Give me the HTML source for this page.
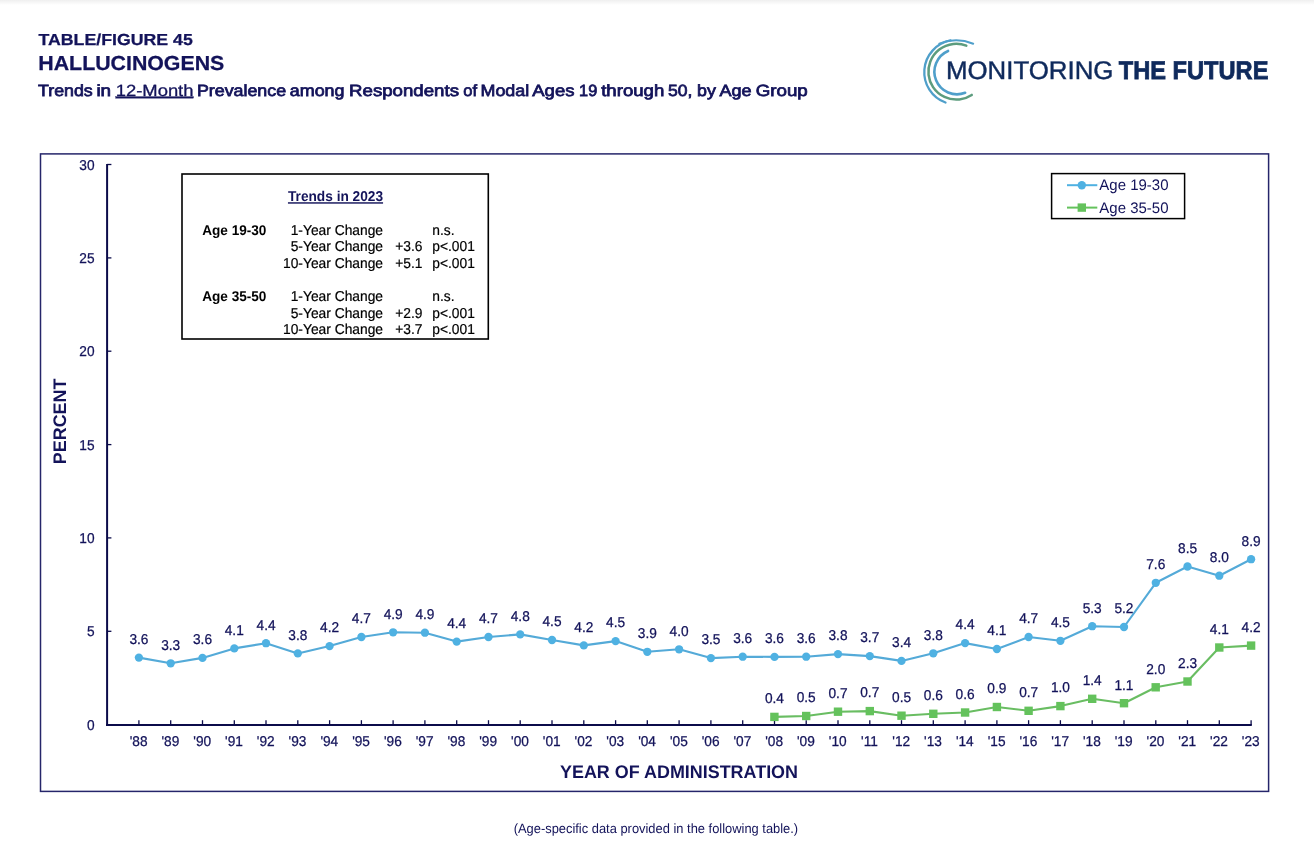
<!DOCTYPE html>
<html lang="en">
<head>
<meta charset="utf-8">
<title>Table/Figure 45 - Hallucinogens</title>
<style>
html,body{margin:0;padding:0;background:#fff;}
body{width:1314px;height:860px;overflow:hidden;position:relative;font-family:"Liberation Sans",Arial,Helvetica,sans-serif;}
svg{position:absolute;left:0;top:0;display:block;will-change:transform;}
text{font-family:"Liberation Sans",Arial,Helvetica,sans-serif;text-rendering:geometricPrecision;}
</style>
</head>
<body>
<svg width="1314" height="860" viewBox="0 0 1314 860">
<defs>
<linearGradient id="topsh" x1="0" y1="0" x2="0" y2="1"><stop offset="0" stop-color="#efefef"/><stop offset="1" stop-color="#ffffff"/></linearGradient>
</defs>
<rect x="0" y="0" width="1314" height="860" fill="#ffffff"/>
<rect x="0" y="0" width="1314" height="5" fill="url(#topsh)"/>

<!-- header -->
<text transform="translate(38.50 44.50) scale(1.000 1.030)" font-size="15.5" fill="#13135a" font-weight="bold" stroke="#13135a" stroke-width="0.25" textLength="154.3" lengthAdjust="spacingAndGlyphs">TABLE/FIGURE 45</text>
<text transform="translate(38.30 70.25) scale(1.000 1.055)" font-size="19.2" fill="#13135a" font-weight="bold" stroke="#13135a" stroke-width="0.25" textLength="186" lengthAdjust="spacingAndGlyphs">HALLUCINOGENS</text>
<text y="95.6" font-size="16.2" fill="#13135a" stroke="#13135a"><tspan x="38.0" stroke-width="0.75" textLength="54.7" lengthAdjust="spacingAndGlyphs">Trends</tspan> <tspan x="96.4" stroke-width="0.75" textLength="14.7" lengthAdjust="spacingAndGlyphs">in</tspan> <tspan x="115.7" stroke-width="0.3" text-decoration="underline" textLength="77.8" lengthAdjust="spacingAndGlyphs">12-Month</tspan> <tspan x="196.9" stroke-width="0.75" textLength="89.2" lengthAdjust="spacingAndGlyphs">Prevalence</tspan> <tspan x="289.8" stroke-width="0.75" textLength="54.7" lengthAdjust="spacingAndGlyphs">among</tspan> <tspan x="349.1" stroke-width="0.75" textLength="109.9" lengthAdjust="spacingAndGlyphs">Respondents</tspan> <tspan x="463.3" stroke-width="0.75" textLength="13.8" lengthAdjust="spacingAndGlyphs">of</tspan> <tspan x="480.5" stroke-width="0.75" textLength="48.7" lengthAdjust="spacingAndGlyphs">Modal</tspan> <tspan x="532.3" stroke-width="0.75" textLength="42.1" lengthAdjust="spacingAndGlyphs">Ages</tspan> <tspan x="579.1" stroke-width="0.75" textLength="18.1" lengthAdjust="spacingAndGlyphs">19</tspan> <tspan x="601.2" stroke-width="0.75" textLength="63.1" lengthAdjust="spacingAndGlyphs">through</tspan> <tspan x="668.0" stroke-width="0.75" textLength="24.4" lengthAdjust="spacingAndGlyphs">50,</tspan> <tspan x="697.0" stroke-width="0.75" textLength="18.8" lengthAdjust="spacingAndGlyphs">by</tspan> <tspan x="719.5" stroke-width="0.75" textLength="32.1" lengthAdjust="spacingAndGlyphs">Age</tspan> <tspan x="755.7" stroke-width="0.75" textLength="52.1" lengthAdjust="spacingAndGlyphs">Group</tspan></text>
<!-- logo -->
<g fill="none" stroke-linecap="round">
<path d="M950.53 40.47 A32.30 32.30 0 0 0 945.48 102.53" stroke="#4f9fca" stroke-width="2.3"/>
<path d="M939.3 43.6 A46 46 0 0 1 973.2 43.7" stroke="#4f9fca" stroke-width="2.0"/>
<path d="M966.32 45.66 A27.90 27.90 0 1 0 971.75 94.93" stroke="#5c9c7e" stroke-width="2.5"/>
<path d="M948.07 50.94 A22.60 22.60 0 0 0 965.15 92.78" stroke="#4f9fca" stroke-width="2.6"/>
</g>
<text transform="translate(946.00 78.60)" font-size="25.6" fill="#0f2a5c" stroke="#0f2a5c" stroke-width="0.45" textLength="167.4" lengthAdjust="spacingAndGlyphs">MONITORING</text>
<text transform="translate(1118.80 78.60)" font-size="25.6" fill="#0f2a5c" font-weight="bold" stroke="#0f2a5c" stroke-width="0.8" textLength="149.6" lengthAdjust="spacingAndGlyphs">THE FUTURE</text>
<!-- chart frame and axes -->
<rect x="40.5" y="153.9" width="1228.1" height="637.5" fill="none" stroke="#25256a" stroke-width="1.5"/>
<g stroke="#0b0b4a" fill="none">
<line x1="107.1" y1="164.1" x2="107.1" y2="726.0" stroke-width="2"/>
<line x1="106.1" y1="725.0" x2="1251.8" y2="725.0" stroke-width="2"/>
<line x1="107.1" y1="631.3" x2="111.4" y2="631.3" stroke-width="1.3"/>
<line x1="107.1" y1="537.9" x2="111.4" y2="537.9" stroke-width="1.3"/>
<line x1="107.1" y1="444.6" x2="111.4" y2="444.6" stroke-width="1.3"/>
<line x1="107.1" y1="351.2" x2="111.4" y2="351.2" stroke-width="1.3"/>
<line x1="107.1" y1="257.9" x2="111.4" y2="257.9" stroke-width="1.3"/>
<line x1="107.1" y1="164.5" x2="111.4" y2="164.5" stroke-width="1.3"/>
<line x1="138.9" y1="725.0" x2="138.9" y2="720.2" stroke-width="1.3"/>
<line x1="170.7" y1="725.0" x2="170.7" y2="720.2" stroke-width="1.3"/>
<line x1="202.5" y1="725.0" x2="202.5" y2="720.2" stroke-width="1.3"/>
<line x1="234.3" y1="725.0" x2="234.3" y2="720.2" stroke-width="1.3"/>
<line x1="266.0" y1="725.0" x2="266.0" y2="720.2" stroke-width="1.3"/>
<line x1="297.8" y1="725.0" x2="297.8" y2="720.2" stroke-width="1.3"/>
<line x1="329.6" y1="725.0" x2="329.6" y2="720.2" stroke-width="1.3"/>
<line x1="361.4" y1="725.0" x2="361.4" y2="720.2" stroke-width="1.3"/>
<line x1="393.1" y1="725.0" x2="393.1" y2="720.2" stroke-width="1.3"/>
<line x1="424.9" y1="725.0" x2="424.9" y2="720.2" stroke-width="1.3"/>
<line x1="456.7" y1="725.0" x2="456.7" y2="720.2" stroke-width="1.3"/>
<line x1="488.5" y1="725.0" x2="488.5" y2="720.2" stroke-width="1.3"/>
<line x1="520.2" y1="725.0" x2="520.2" y2="720.2" stroke-width="1.3"/>
<line x1="552.0" y1="725.0" x2="552.0" y2="720.2" stroke-width="1.3"/>
<line x1="583.8" y1="725.0" x2="583.8" y2="720.2" stroke-width="1.3"/>
<line x1="615.6" y1="725.0" x2="615.6" y2="720.2" stroke-width="1.3"/>
<line x1="647.3" y1="725.0" x2="647.3" y2="720.2" stroke-width="1.3"/>
<line x1="679.1" y1="725.0" x2="679.1" y2="720.2" stroke-width="1.3"/>
<line x1="710.9" y1="725.0" x2="710.9" y2="720.2" stroke-width="1.3"/>
<line x1="742.7" y1="725.0" x2="742.7" y2="720.2" stroke-width="1.3"/>
<line x1="774.5" y1="725.0" x2="774.5" y2="720.2" stroke-width="1.3"/>
<line x1="806.2" y1="725.0" x2="806.2" y2="720.2" stroke-width="1.3"/>
<line x1="838.0" y1="725.0" x2="838.0" y2="720.2" stroke-width="1.3"/>
<line x1="869.8" y1="725.0" x2="869.8" y2="720.2" stroke-width="1.3"/>
<line x1="901.5" y1="725.0" x2="901.5" y2="720.2" stroke-width="1.3"/>
<line x1="933.3" y1="725.0" x2="933.3" y2="720.2" stroke-width="1.3"/>
<line x1="965.1" y1="725.0" x2="965.1" y2="720.2" stroke-width="1.3"/>
<line x1="996.9" y1="725.0" x2="996.9" y2="720.2" stroke-width="1.3"/>
<line x1="1028.6" y1="725.0" x2="1028.6" y2="720.2" stroke-width="1.3"/>
<line x1="1060.4" y1="725.0" x2="1060.4" y2="720.2" stroke-width="1.3"/>
<line x1="1092.2" y1="725.0" x2="1092.2" y2="720.2" stroke-width="1.3"/>
<line x1="1124.0" y1="725.0" x2="1124.0" y2="720.2" stroke-width="1.3"/>
<line x1="1155.8" y1="725.0" x2="1155.8" y2="720.2" stroke-width="1.3"/>
<line x1="1187.5" y1="725.0" x2="1187.5" y2="720.2" stroke-width="1.3"/>
<line x1="1219.3" y1="725.0" x2="1219.3" y2="720.2" stroke-width="1.3"/>
<line x1="1251.1" y1="725.0" x2="1251.1" y2="720.2" stroke-width="1.3"/>
</g>
<!-- axis labels -->
<text transform="translate(94.60 729.75) scale(1.000 1.040)" font-size="13.7" fill="#13135a" text-anchor="end" stroke="#13135a" stroke-width="0.25">0</text>
<text transform="translate(94.60 636.40) scale(1.000 1.040)" font-size="13.7" fill="#13135a" text-anchor="end" stroke="#13135a" stroke-width="0.25">5</text>
<text transform="translate(94.60 543.05) scale(1.000 1.040)" font-size="13.7" fill="#13135a" text-anchor="end" stroke="#13135a" stroke-width="0.25">10</text>
<text transform="translate(94.60 449.70) scale(1.000 1.040)" font-size="13.7" fill="#13135a" text-anchor="end" stroke="#13135a" stroke-width="0.25">15</text>
<text transform="translate(94.60 356.35) scale(1.000 1.040)" font-size="13.7" fill="#13135a" text-anchor="end" stroke="#13135a" stroke-width="0.25">20</text>
<text transform="translate(94.60 263.00) scale(1.000 1.040)" font-size="13.7" fill="#13135a" text-anchor="end" stroke="#13135a" stroke-width="0.25">25</text>
<text transform="translate(94.60 169.65) scale(1.000 1.040)" font-size="13.7" fill="#13135a" text-anchor="end" stroke="#13135a" stroke-width="0.25">30</text>
<text transform="translate(138.65 745.70) scale(1.000 1.040)" font-size="13.7" fill="#13135a" text-anchor="middle" stroke="#13135a" stroke-width="0.25">'88</text>
<text transform="translate(170.42 745.70) scale(1.000 1.040)" font-size="13.7" fill="#13135a" text-anchor="middle" stroke="#13135a" stroke-width="0.25">'89</text>
<text transform="translate(202.20 745.70) scale(1.000 1.040)" font-size="13.7" fill="#13135a" text-anchor="middle" stroke="#13135a" stroke-width="0.25">'90</text>
<text transform="translate(233.97 745.70) scale(1.000 1.040)" font-size="13.7" fill="#13135a" text-anchor="middle" stroke="#13135a" stroke-width="0.25">'91</text>
<text transform="translate(265.75 745.70) scale(1.000 1.040)" font-size="13.7" fill="#13135a" text-anchor="middle" stroke="#13135a" stroke-width="0.25">'92</text>
<text transform="translate(297.52 745.70) scale(1.000 1.040)" font-size="13.7" fill="#13135a" text-anchor="middle" stroke="#13135a" stroke-width="0.25">'93</text>
<text transform="translate(329.30 745.70) scale(1.000 1.040)" font-size="13.7" fill="#13135a" text-anchor="middle" stroke="#13135a" stroke-width="0.25">'94</text>
<text transform="translate(361.07 745.70) scale(1.000 1.040)" font-size="13.7" fill="#13135a" text-anchor="middle" stroke="#13135a" stroke-width="0.25">'95</text>
<text transform="translate(392.85 745.70) scale(1.000 1.040)" font-size="13.7" fill="#13135a" text-anchor="middle" stroke="#13135a" stroke-width="0.25">'96</text>
<text transform="translate(424.62 745.70) scale(1.000 1.040)" font-size="13.7" fill="#13135a" text-anchor="middle" stroke="#13135a" stroke-width="0.25">'97</text>
<text transform="translate(456.40 745.70) scale(1.000 1.040)" font-size="13.7" fill="#13135a" text-anchor="middle" stroke="#13135a" stroke-width="0.25">'98</text>
<text transform="translate(488.17 745.70) scale(1.000 1.040)" font-size="13.7" fill="#13135a" text-anchor="middle" stroke="#13135a" stroke-width="0.25">'99</text>
<text transform="translate(519.95 745.70) scale(1.000 1.040)" font-size="13.7" fill="#13135a" text-anchor="middle" stroke="#13135a" stroke-width="0.25">'00</text>
<text transform="translate(551.73 745.70) scale(1.000 1.040)" font-size="13.7" fill="#13135a" text-anchor="middle" stroke="#13135a" stroke-width="0.25">'01</text>
<text transform="translate(583.50 745.70) scale(1.000 1.040)" font-size="13.7" fill="#13135a" text-anchor="middle" stroke="#13135a" stroke-width="0.25">'02</text>
<text transform="translate(615.28 745.70) scale(1.000 1.040)" font-size="13.7" fill="#13135a" text-anchor="middle" stroke="#13135a" stroke-width="0.25">'03</text>
<text transform="translate(647.05 745.70) scale(1.000 1.040)" font-size="13.7" fill="#13135a" text-anchor="middle" stroke="#13135a" stroke-width="0.25">'04</text>
<text transform="translate(678.83 745.70) scale(1.000 1.040)" font-size="13.7" fill="#13135a" text-anchor="middle" stroke="#13135a" stroke-width="0.25">'05</text>
<text transform="translate(710.60 745.70) scale(1.000 1.040)" font-size="13.7" fill="#13135a" text-anchor="middle" stroke="#13135a" stroke-width="0.25">'06</text>
<text transform="translate(742.38 745.70) scale(1.000 1.040)" font-size="13.7" fill="#13135a" text-anchor="middle" stroke="#13135a" stroke-width="0.25">'07</text>
<text transform="translate(774.15 745.70) scale(1.000 1.040)" font-size="13.7" fill="#13135a" text-anchor="middle" stroke="#13135a" stroke-width="0.25">'08</text>
<text transform="translate(805.92 745.70) scale(1.000 1.040)" font-size="13.7" fill="#13135a" text-anchor="middle" stroke="#13135a" stroke-width="0.25">'09</text>
<text transform="translate(837.70 745.70) scale(1.000 1.040)" font-size="13.7" fill="#13135a" text-anchor="middle" stroke="#13135a" stroke-width="0.25">'10</text>
<text transform="translate(869.47 745.70) scale(1.000 1.040)" font-size="13.7" fill="#13135a" text-anchor="middle" stroke="#13135a" stroke-width="0.25">'11</text>
<text transform="translate(901.25 745.70) scale(1.000 1.040)" font-size="13.7" fill="#13135a" text-anchor="middle" stroke="#13135a" stroke-width="0.25">'12</text>
<text transform="translate(933.03 745.70) scale(1.000 1.040)" font-size="13.7" fill="#13135a" text-anchor="middle" stroke="#13135a" stroke-width="0.25">'13</text>
<text transform="translate(964.80 745.70) scale(1.000 1.040)" font-size="13.7" fill="#13135a" text-anchor="middle" stroke="#13135a" stroke-width="0.25">'14</text>
<text transform="translate(996.58 745.70) scale(1.000 1.040)" font-size="13.7" fill="#13135a" text-anchor="middle" stroke="#13135a" stroke-width="0.25">'15</text>
<text transform="translate(1028.35 745.70) scale(1.000 1.040)" font-size="13.7" fill="#13135a" text-anchor="middle" stroke="#13135a" stroke-width="0.25">'16</text>
<text transform="translate(1060.12 745.70) scale(1.000 1.040)" font-size="13.7" fill="#13135a" text-anchor="middle" stroke="#13135a" stroke-width="0.25">'17</text>
<text transform="translate(1091.90 745.70) scale(1.000 1.040)" font-size="13.7" fill="#13135a" text-anchor="middle" stroke="#13135a" stroke-width="0.25">'18</text>
<text transform="translate(1123.67 745.70) scale(1.000 1.040)" font-size="13.7" fill="#13135a" text-anchor="middle" stroke="#13135a" stroke-width="0.25">'19</text>
<text transform="translate(1155.45 745.70) scale(1.000 1.040)" font-size="13.7" fill="#13135a" text-anchor="middle" stroke="#13135a" stroke-width="0.25">'20</text>
<text transform="translate(1187.23 745.70) scale(1.000 1.040)" font-size="13.7" fill="#13135a" text-anchor="middle" stroke="#13135a" stroke-width="0.25">'21</text>
<text transform="translate(1219.00 745.70) scale(1.000 1.040)" font-size="13.7" fill="#13135a" text-anchor="middle" stroke="#13135a" stroke-width="0.25">'22</text>
<text transform="translate(1250.78 745.70) scale(1.000 1.040)" font-size="13.7" fill="#13135a" text-anchor="middle" stroke="#13135a" stroke-width="0.25">'23</text>
<text transform="translate(679.00 777.90) scale(1.000 1.080)" font-size="17" fill="#13135a" text-anchor="middle" font-weight="bold" textLength="238" lengthAdjust="spacingAndGlyphs">YEAR OF ADMINISTRATION</text>
<text transform="translate(66.40 421.40) rotate(-90) scale(1.000 1.070)" font-size="17" fill="#13135a" text-anchor="middle" font-weight="bold" textLength="85.5" lengthAdjust="spacingAndGlyphs">PERCENT</text>
<!-- series -->
<polyline points="138.9,657.6 170.7,663.3 202.5,657.9 234.3,648.4 266.0,643.2 297.8,653.4 329.6,646.1 361.4,637.0 393.1,632.3 424.9,632.7 456.7,641.6 488.5,637.0 520.2,634.4 552.0,640.0 583.8,645.4 615.6,641.1 647.3,651.8 679.1,649.3 710.9,658.1 742.7,656.7 774.5,656.9 806.2,656.7 838.0,654.1 869.8,656.1 901.5,660.9 933.3,653.3 965.1,643.1 996.9,649.0 1028.6,637.0 1060.4,640.8 1092.2,626.2 1124.0,627.0 1155.8,582.8 1187.5,566.5 1219.3,575.7 1251.1,559.2" fill="none" stroke="#54aad8" stroke-width="2.1" stroke-linejoin="round"/>
<g fill="#4fb1e2">
<circle cx="138.9" cy="657.6" r="4.15"/>
<circle cx="170.7" cy="663.3" r="4.15"/>
<circle cx="202.5" cy="657.9" r="4.15"/>
<circle cx="234.3" cy="648.4" r="4.15"/>
<circle cx="266.0" cy="643.2" r="4.15"/>
<circle cx="297.8" cy="653.4" r="4.15"/>
<circle cx="329.6" cy="646.1" r="4.15"/>
<circle cx="361.4" cy="637.0" r="4.15"/>
<circle cx="393.1" cy="632.3" r="4.15"/>
<circle cx="424.9" cy="632.7" r="4.15"/>
<circle cx="456.7" cy="641.6" r="4.15"/>
<circle cx="488.5" cy="637.0" r="4.15"/>
<circle cx="520.2" cy="634.4" r="4.15"/>
<circle cx="552.0" cy="640.0" r="4.15"/>
<circle cx="583.8" cy="645.4" r="4.15"/>
<circle cx="615.6" cy="641.1" r="4.15"/>
<circle cx="647.3" cy="651.8" r="4.15"/>
<circle cx="679.1" cy="649.3" r="4.15"/>
<circle cx="710.9" cy="658.1" r="4.15"/>
<circle cx="742.7" cy="656.7" r="4.15"/>
<circle cx="774.5" cy="656.9" r="4.15"/>
<circle cx="806.2" cy="656.7" r="4.15"/>
<circle cx="838.0" cy="654.1" r="4.15"/>
<circle cx="869.8" cy="656.1" r="4.15"/>
<circle cx="901.5" cy="660.9" r="4.15"/>
<circle cx="933.3" cy="653.3" r="4.15"/>
<circle cx="965.1" cy="643.1" r="4.15"/>
<circle cx="996.9" cy="649.0" r="4.15"/>
<circle cx="1028.6" cy="637.0" r="4.15"/>
<circle cx="1060.4" cy="640.8" r="4.15"/>
<circle cx="1092.2" cy="626.2" r="4.15"/>
<circle cx="1124.0" cy="627.0" r="4.15"/>
<circle cx="1155.8" cy="582.8" r="4.15"/>
<circle cx="1187.5" cy="566.5" r="4.15"/>
<circle cx="1219.3" cy="575.7" r="4.15"/>
<circle cx="1251.1" cy="559.2" r="4.15"/>
</g>
<polyline points="774.5,716.9 806.2,716.0 838.0,711.7 869.8,711.1 901.5,715.7 933.3,713.8 965.1,712.5 996.9,707.0 1028.6,710.8 1060.4,706.1 1092.2,698.8 1124.0,703.2 1155.8,687.3 1187.5,681.5 1219.3,647.5 1251.1,645.6" fill="none" stroke="#69bd62" stroke-width="2.1" stroke-linejoin="round"/>
<g fill="#64c25c">
<rect x="770.2" y="712.7" width="8.4" height="8.4"/>
<rect x="802.0" y="711.8" width="8.4" height="8.4"/>
<rect x="833.8" y="707.5" width="8.4" height="8.4"/>
<rect x="865.6" y="706.9" width="8.4" height="8.4"/>
<rect x="897.3" y="711.5" width="8.4" height="8.4"/>
<rect x="929.1" y="709.6" width="8.4" height="8.4"/>
<rect x="960.9" y="708.3" width="8.4" height="8.4"/>
<rect x="992.7" y="702.8" width="8.4" height="8.4"/>
<rect x="1024.4" y="706.6" width="8.4" height="8.4"/>
<rect x="1056.2" y="701.9" width="8.4" height="8.4"/>
<rect x="1088.0" y="694.6" width="8.4" height="8.4"/>
<rect x="1119.8" y="699.0" width="8.4" height="8.4"/>
<rect x="1151.5" y="683.1" width="8.4" height="8.4"/>
<rect x="1183.3" y="677.3" width="8.4" height="8.4"/>
<rect x="1215.1" y="643.3" width="8.4" height="8.4"/>
<rect x="1246.9" y="641.4" width="8.4" height="8.4"/>
</g>
<!-- data labels -->
<text transform="translate(138.95 643.90) scale(1.000 1.040)" font-size="13.7" fill="#13135a" text-anchor="middle" stroke="#13135a" stroke-width="0.25">3.6</text>
<text transform="translate(170.72 649.60) scale(1.000 1.040)" font-size="13.7" fill="#13135a" text-anchor="middle" stroke="#13135a" stroke-width="0.25">3.3</text>
<text transform="translate(202.50 644.20) scale(1.000 1.040)" font-size="13.7" fill="#13135a" text-anchor="middle" stroke="#13135a" stroke-width="0.25">3.6</text>
<text transform="translate(234.27 634.70) scale(1.000 1.040)" font-size="13.7" fill="#13135a" text-anchor="middle" stroke="#13135a" stroke-width="0.25">4.1</text>
<text transform="translate(266.05 629.50) scale(1.000 1.040)" font-size="13.7" fill="#13135a" text-anchor="middle" stroke="#13135a" stroke-width="0.25">4.4</text>
<text transform="translate(297.82 639.70) scale(1.000 1.040)" font-size="13.7" fill="#13135a" text-anchor="middle" stroke="#13135a" stroke-width="0.25">3.8</text>
<text transform="translate(329.60 632.40) scale(1.000 1.040)" font-size="13.7" fill="#13135a" text-anchor="middle" stroke="#13135a" stroke-width="0.25">4.2</text>
<text transform="translate(361.38 623.30) scale(1.000 1.040)" font-size="13.7" fill="#13135a" text-anchor="middle" stroke="#13135a" stroke-width="0.25">4.7</text>
<text transform="translate(393.15 618.60) scale(1.000 1.040)" font-size="13.7" fill="#13135a" text-anchor="middle" stroke="#13135a" stroke-width="0.25">4.9</text>
<text transform="translate(424.92 619.00) scale(1.000 1.040)" font-size="13.7" fill="#13135a" text-anchor="middle" stroke="#13135a" stroke-width="0.25">4.9</text>
<text transform="translate(456.70 627.90) scale(1.000 1.040)" font-size="13.7" fill="#13135a" text-anchor="middle" stroke="#13135a" stroke-width="0.25">4.4</text>
<text transform="translate(488.47 623.30) scale(1.000 1.040)" font-size="13.7" fill="#13135a" text-anchor="middle" stroke="#13135a" stroke-width="0.25">4.7</text>
<text transform="translate(520.25 620.70) scale(1.000 1.040)" font-size="13.7" fill="#13135a" text-anchor="middle" stroke="#13135a" stroke-width="0.25">4.8</text>
<text transform="translate(552.02 626.30) scale(1.000 1.040)" font-size="13.7" fill="#13135a" text-anchor="middle" stroke="#13135a" stroke-width="0.25">4.5</text>
<text transform="translate(583.80 631.70) scale(1.000 1.040)" font-size="13.7" fill="#13135a" text-anchor="middle" stroke="#13135a" stroke-width="0.25">4.2</text>
<text transform="translate(615.58 627.40) scale(1.000 1.040)" font-size="13.7" fill="#13135a" text-anchor="middle" stroke="#13135a" stroke-width="0.25">4.5</text>
<text transform="translate(647.35 638.10) scale(1.000 1.040)" font-size="13.7" fill="#13135a" text-anchor="middle" stroke="#13135a" stroke-width="0.25">3.9</text>
<text transform="translate(679.12 635.60) scale(1.000 1.040)" font-size="13.7" fill="#13135a" text-anchor="middle" stroke="#13135a" stroke-width="0.25">4.0</text>
<text transform="translate(710.90 644.40) scale(1.000 1.040)" font-size="13.7" fill="#13135a" text-anchor="middle" stroke="#13135a" stroke-width="0.25">3.5</text>
<text transform="translate(742.67 643.00) scale(1.000 1.040)" font-size="13.7" fill="#13135a" text-anchor="middle" stroke="#13135a" stroke-width="0.25">3.6</text>
<text transform="translate(774.45 643.20) scale(1.000 1.040)" font-size="13.7" fill="#13135a" text-anchor="middle" stroke="#13135a" stroke-width="0.25">3.6</text>
<text transform="translate(806.22 643.00) scale(1.000 1.040)" font-size="13.7" fill="#13135a" text-anchor="middle" stroke="#13135a" stroke-width="0.25">3.6</text>
<text transform="translate(838.00 640.40) scale(1.000 1.040)" font-size="13.7" fill="#13135a" text-anchor="middle" stroke="#13135a" stroke-width="0.25">3.8</text>
<text transform="translate(869.77 642.40) scale(1.000 1.040)" font-size="13.7" fill="#13135a" text-anchor="middle" stroke="#13135a" stroke-width="0.25">3.7</text>
<text transform="translate(901.55 647.20) scale(1.000 1.040)" font-size="13.7" fill="#13135a" text-anchor="middle" stroke="#13135a" stroke-width="0.25">3.4</text>
<text transform="translate(933.33 639.60) scale(1.000 1.040)" font-size="13.7" fill="#13135a" text-anchor="middle" stroke="#13135a" stroke-width="0.25">3.8</text>
<text transform="translate(965.10 629.40) scale(1.000 1.040)" font-size="13.7" fill="#13135a" text-anchor="middle" stroke="#13135a" stroke-width="0.25">4.4</text>
<text transform="translate(996.88 635.30) scale(1.000 1.040)" font-size="13.7" fill="#13135a" text-anchor="middle" stroke="#13135a" stroke-width="0.25">4.1</text>
<text transform="translate(1028.65 623.30) scale(1.000 1.040)" font-size="13.7" fill="#13135a" text-anchor="middle" stroke="#13135a" stroke-width="0.25">4.7</text>
<text transform="translate(1060.42 627.10) scale(1.000 1.040)" font-size="13.7" fill="#13135a" text-anchor="middle" stroke="#13135a" stroke-width="0.25">4.5</text>
<text transform="translate(1092.20 612.50) scale(1.000 1.040)" font-size="13.7" fill="#13135a" text-anchor="middle" stroke="#13135a" stroke-width="0.25">5.3</text>
<text transform="translate(1123.97 613.30) scale(1.000 1.040)" font-size="13.7" fill="#13135a" text-anchor="middle" stroke="#13135a" stroke-width="0.25">5.2</text>
<text transform="translate(1155.75 569.10) scale(1.000 1.040)" font-size="13.7" fill="#13135a" text-anchor="middle" stroke="#13135a" stroke-width="0.25">7.6</text>
<text transform="translate(1187.53 552.80) scale(1.000 1.040)" font-size="13.7" fill="#13135a" text-anchor="middle" stroke="#13135a" stroke-width="0.25">8.5</text>
<text transform="translate(1219.30 562.00) scale(1.000 1.040)" font-size="13.7" fill="#13135a" text-anchor="middle" stroke="#13135a" stroke-width="0.25">8.0</text>
<text transform="translate(1251.08 545.50) scale(1.000 1.040)" font-size="13.7" fill="#13135a" text-anchor="middle" stroke="#13135a" stroke-width="0.25">8.9</text>
<text transform="translate(774.45 703.20) scale(1.000 1.040)" font-size="13.7" fill="#13135a" text-anchor="middle" stroke="#13135a" stroke-width="0.25">0.4</text>
<text transform="translate(806.22 702.30) scale(1.000 1.040)" font-size="13.7" fill="#13135a" text-anchor="middle" stroke="#13135a" stroke-width="0.25">0.5</text>
<text transform="translate(838.00 698.00) scale(1.000 1.040)" font-size="13.7" fill="#13135a" text-anchor="middle" stroke="#13135a" stroke-width="0.25">0.7</text>
<text transform="translate(869.77 697.40) scale(1.000 1.040)" font-size="13.7" fill="#13135a" text-anchor="middle" stroke="#13135a" stroke-width="0.25">0.7</text>
<text transform="translate(901.55 702.00) scale(1.000 1.040)" font-size="13.7" fill="#13135a" text-anchor="middle" stroke="#13135a" stroke-width="0.25">0.5</text>
<text transform="translate(933.33 700.10) scale(1.000 1.040)" font-size="13.7" fill="#13135a" text-anchor="middle" stroke="#13135a" stroke-width="0.25">0.6</text>
<text transform="translate(965.10 698.80) scale(1.000 1.040)" font-size="13.7" fill="#13135a" text-anchor="middle" stroke="#13135a" stroke-width="0.25">0.6</text>
<text transform="translate(996.88 693.30) scale(1.000 1.040)" font-size="13.7" fill="#13135a" text-anchor="middle" stroke="#13135a" stroke-width="0.25">0.9</text>
<text transform="translate(1028.65 697.10) scale(1.000 1.040)" font-size="13.7" fill="#13135a" text-anchor="middle" stroke="#13135a" stroke-width="0.25">0.7</text>
<text transform="translate(1060.42 692.40) scale(1.000 1.040)" font-size="13.7" fill="#13135a" text-anchor="middle" stroke="#13135a" stroke-width="0.25">1.0</text>
<text transform="translate(1092.20 685.10) scale(1.000 1.040)" font-size="13.7" fill="#13135a" text-anchor="middle" stroke="#13135a" stroke-width="0.25">1.4</text>
<text transform="translate(1123.97 689.50) scale(1.000 1.040)" font-size="13.7" fill="#13135a" text-anchor="middle" stroke="#13135a" stroke-width="0.25">1.1</text>
<text transform="translate(1155.75 673.60) scale(1.000 1.040)" font-size="13.7" fill="#13135a" text-anchor="middle" stroke="#13135a" stroke-width="0.25">2.0</text>
<text transform="translate(1187.53 667.80) scale(1.000 1.040)" font-size="13.7" fill="#13135a" text-anchor="middle" stroke="#13135a" stroke-width="0.25">2.3</text>
<text transform="translate(1219.30 633.80) scale(1.000 1.040)" font-size="13.7" fill="#13135a" text-anchor="middle" stroke="#13135a" stroke-width="0.25">4.1</text>
<text transform="translate(1251.08 631.90) scale(1.000 1.040)" font-size="13.7" fill="#13135a" text-anchor="middle" stroke="#13135a" stroke-width="0.25">4.2</text>
<!-- trends box -->
<rect x="182" y="174" width="306.3" height="165" fill="#fff" stroke="#000" stroke-width="1.6"/>
<text transform="translate(335.50 201.20) scale(1.000 1.040)" font-size="13.7" fill="#13135a" text-anchor="middle" font-weight="bold" text-decoration="underline">Trends in 2023</text>
<text transform="translate(202.20 234.80) scale(1.000 1.040)" font-size="13.6" fill="#000" font-weight="bold">Age 19-30</text>
<text transform="translate(383.00 234.80) scale(1.000 1.040)" font-size="13.8" fill="#000" text-anchor="end" stroke="#000" stroke-width="0.2">1-Year Change</text>
<text transform="translate(432.30 234.80) scale(1.000 1.040)" font-size="13.8" fill="#000" stroke="#000" stroke-width="0.2">n.s.</text>
<text transform="translate(383.00 251.30) scale(1.000 1.040)" font-size="13.8" fill="#000" text-anchor="end" stroke="#000" stroke-width="0.2">5-Year Change</text>
<text transform="translate(395.30 251.30) scale(1.000 1.040)" font-size="13.8" fill="#000" stroke="#000" stroke-width="0.2">+3.6</text>
<text transform="translate(432.30 251.30) scale(1.000 1.040)" font-size="13.8" fill="#000" stroke="#000" stroke-width="0.2">p&lt;.001</text>
<text transform="translate(383.00 268.10) scale(1.000 1.040)" font-size="13.8" fill="#000" text-anchor="end" stroke="#000" stroke-width="0.2">10-Year Change</text>
<text transform="translate(395.30 268.10) scale(1.000 1.040)" font-size="13.8" fill="#000" stroke="#000" stroke-width="0.2">+5.1</text>
<text transform="translate(432.30 268.10) scale(1.000 1.040)" font-size="13.8" fill="#000" stroke="#000" stroke-width="0.2">p&lt;.001</text>
<text transform="translate(202.20 301.10) scale(1.000 1.040)" font-size="13.6" fill="#000" font-weight="bold">Age 35-50</text>
<text transform="translate(383.00 301.10) scale(1.000 1.040)" font-size="13.8" fill="#000" text-anchor="end" stroke="#000" stroke-width="0.2">1-Year Change</text>
<text transform="translate(432.30 301.10) scale(1.000 1.040)" font-size="13.8" fill="#000" stroke="#000" stroke-width="0.2">n.s.</text>
<text transform="translate(383.00 317.60) scale(1.000 1.040)" font-size="13.8" fill="#000" text-anchor="end" stroke="#000" stroke-width="0.2">5-Year Change</text>
<text transform="translate(395.30 317.60) scale(1.000 1.040)" font-size="13.8" fill="#000" stroke="#000" stroke-width="0.2">+2.9</text>
<text transform="translate(432.30 317.60) scale(1.000 1.040)" font-size="13.8" fill="#000" stroke="#000" stroke-width="0.2">p&lt;.001</text>
<text transform="translate(383.00 333.80) scale(1.000 1.040)" font-size="13.8" fill="#000" text-anchor="end" stroke="#000" stroke-width="0.2">10-Year Change</text>
<text transform="translate(395.30 333.80) scale(1.000 1.040)" font-size="13.8" fill="#000" stroke="#000" stroke-width="0.2">+3.7</text>
<text transform="translate(432.30 333.80) scale(1.000 1.040)" font-size="13.8" fill="#000" stroke="#000" stroke-width="0.2">p&lt;.001</text>
<!-- legend -->
<rect x="1051.6" y="173.6" width="133" height="45" fill="#fff" stroke="#000" stroke-width="1.5"/>
<line x1="1067" y1="185.2" x2="1097.3" y2="185.2" stroke="#4fb1e2" stroke-width="2"/>
<circle cx="1081.8" cy="185.2" r="4.2" fill="#4fb1e2"/>
<line x1="1067" y1="207.6" x2="1097.3" y2="207.6" stroke="#64c25c" stroke-width="2"/>
<rect x="1077.6" y="203.4" width="8.4" height="8.4" fill="#64c25c"/>
<text transform="translate(1099.30 190.40) scale(1.000 1.020)" font-size="15" fill="#13135a">Age 19-30</text>
<text transform="translate(1099.30 212.90) scale(1.000 1.020)" font-size="15" fill="#13135a">Age 35-50</text>
<text transform="translate(655.90 833.40) scale(1.000 1.040)" font-size="12.9" fill="#13135a" text-anchor="middle">(Age-specific data provided in the following table.)</text>
</svg>
</body>
</html>
